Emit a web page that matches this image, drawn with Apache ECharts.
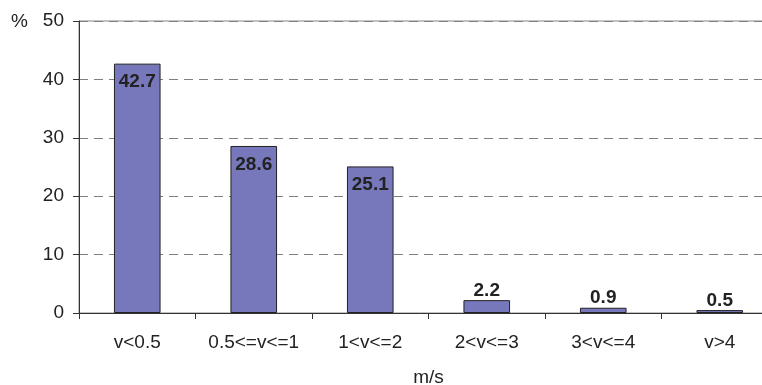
<!DOCTYPE html>
<html>
<head>
<meta charset="utf-8">
<script src="https://cdn.jsdelivr.net/npm/echarts@6/dist/echarts.min.js"></script>
<style>
  html, body { margin: 0; padding: 0; background: #fff; }
  #main { width: 762px; height: 385px; }
</style>
</head>
<body>
<div id="main"></div>
<script>
    // wind speed classes and share of observations (%)
    var categories = ['v<0.5', '0.5<=v<=1', '1<v<=2', '2<v<=3', '3<v<=4', 'v>4'];
    var shares = [42.7, 28.6, 25.1, 2.2, 0.9, 0.5];
    var yTicks = [0, 10, 20, 30, 40, 50];

    var FONT = '"Liberation Sans", Arial, sans-serif';
    var TEXT = '#222';

    // tall bars carry their label inside, small ones above
    var barData = shares.map(function(v) {
        var inside = v > 10;
        return {
            value: v,
            label: {
                position: inside ? 'insideTop' : 'top',
                distance: inside ? 9 : 0
            }
        };
    });

    var chart = echarts.init(document.getElementById('main'));
    chart.setOption({
        animation: false,
        backgroundColor: '#fff',
        grid: {
            left: 79,
            right: -16,
            top: 21,
            bottom: 72,
            outerBoundsMode: 'none',
            containLabel: false,
            show: true,
            borderColor: '#888',
            borderWidth: 1
        },
        graphic: [{
            type: 'text',
            left: 11,
            top: 12,
            style: { text: '%', font: '19px ' + FONT, fill: TEXT }
        }],
        xAxis: {
            type: 'category',
            data: categories,
            name: 'm/s',
            nameLocation: 'middle',
            nameGap: 55,
            nameTextStyle: { fontFamily: FONT, fontSize: 19, color: TEXT },
            axisLine: { lineStyle: { color: '#333', width: 1 } },
            axisTick: { show: true, length: 6, alignWithLabel: false, lineStyle: { color: '#333' } },
            axisLabel: { margin: 20, fontFamily: FONT, fontSize: 19, color: TEXT, interval: 0 }
        },
        yAxis: {
            type: 'value',
            min: yTicks[0],
            max: yTicks[yTicks.length - 1],
            interval: yTicks[1] - yTicks[0],
            axisLine: { show: true, lineStyle: { color: '#333', width: 1 } },
            axisTick: { show: true, length: 6, lineStyle: { color: '#333' } },
            axisLabel: { margin: 15, fontFamily: FONT, fontSize: 19, color: TEXT },
            splitLine: { show: true, lineStyle: { color: '#808080', type: [9, 6], width: 1 } }
        },
        series: [{
            type: 'bar',
            data: barData,
            barWidth: '40%',
            itemStyle: { color: '#7777bb', borderColor: '#222', borderWidth: 1 },
            label: {
                show: true,
                fontFamily: FONT,
                fontSize: 19,
                fontWeight: 'bold',
                color: TEXT
            }
        }]
    });
</script>
</body>
</html>
